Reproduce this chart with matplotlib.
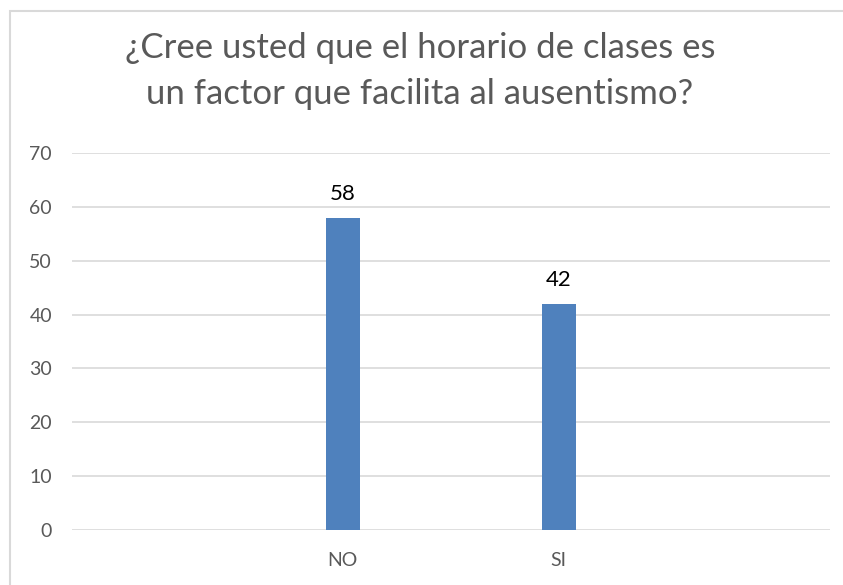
import matplotlib
matplotlib.use("Agg")
import matplotlib.pyplot as plt
from matplotlib.patches import Rectangle

categories = ["NO", "SI"]
values = [58, 42]
yticks = [0, 10, 20, 30, 40, 50, 60, 70]
title = "¿Cree usted que el horario de clases es\nun factor que facilita al ausentismo?"

W, H = 843, 585
fig = plt.figure(figsize=(W / 100, H / 100), dpi=100)
fig.patch.set_facecolor("white")

# chart frame (top and left edges visible)
fig.add_artist(Rectangle((9.5 / W, -0.1), 1.2, 1 - 10.5 / H + 0.1, transform=fig.transFigure,
                         fill=False, edgecolor="#D9D9D9", linewidth=1.5))

left, right = 71.5 / W, 830 / W
bottom, top = 1 - 530 / H, 1 - 153 / H
ax = fig.add_axes([left, bottom, right - left, top - bottom])

font = "Lato"
x = list(range(len(categories)))
bars = ax.bar(x, values, width=0.157, color="#4F81BD", zorder=3)
for xi, v in zip(x, values):
    ax.annotate(str(v), (xi, v), xytext=(0, 10), textcoords="offset points",
                ha="center", va="bottom", fontsize=16, color="black", family=font)

ax.set_xlim(-1.255, 2.255)
ax.set_ylim(0, 70)
ax.set_yticks(yticks)
ax.set_xticks(x)
ax.set_xticklabels(categories)
ax.grid(axis="y", color="#D9D9D9", linewidth=1.2, zorder=0)
for s in ax.spines.values():
    s.set_visible(False)
ax.tick_params(axis="both", length=0, labelsize=14, labelcolor="#595959")
ax.tick_params(axis="y", pad=14)
ax.tick_params(axis="x", pad=16)
for lab in ax.get_xticklabels() + ax.get_yticklabels():
    lab.set_family(font)

fig.text(420 / W, 1 - 71 / H, title, ha="center", va="center", fontsize=25,
         color="#595959", family=font, linespacing=1.55)

fig.savefig("out.png", dpi=100)
